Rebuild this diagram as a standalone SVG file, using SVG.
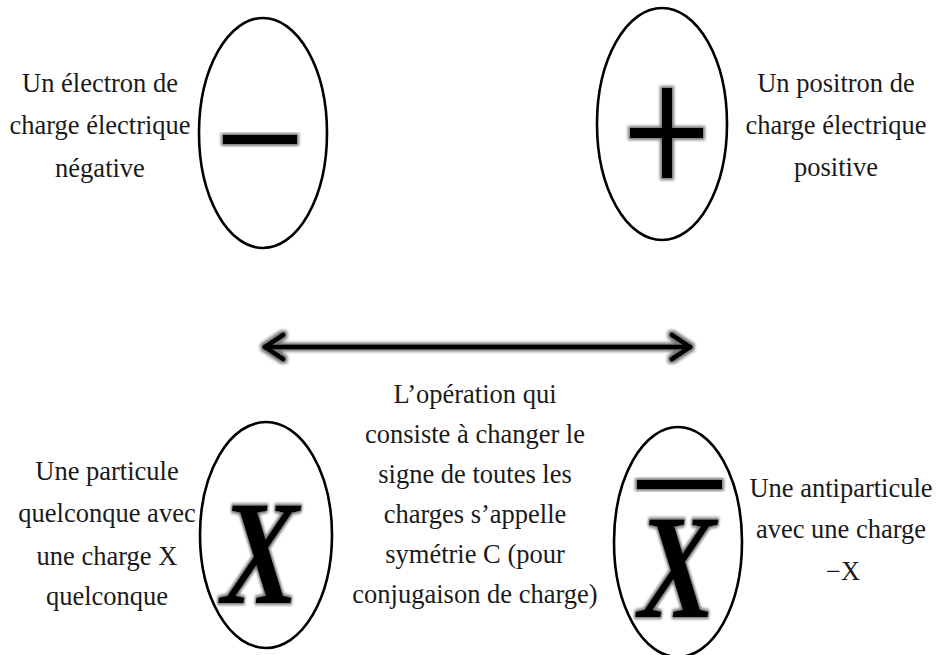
<svg xmlns="http://www.w3.org/2000/svg" width="937" height="655" viewBox="0 0 937 655">
<defs>
<style>
.t{font-family:"Liberation Serif","Times New Roman",serif;font-size:26.5px;fill:#1a1a1a;text-anchor:middle}
.e{fill:none;stroke:#000;stroke-width:2.6}
.bx{font-family:"Liberation Serif","Times New Roman",serif;font-weight:bold;font-style:italic;font-size:148px;fill:#000}
</style>
<filter id="glow" x="-30%" y="-30%" width="160%" height="160%">
<feMorphology in="SourceAlpha" operator="dilate" radius="1.5" result="d"/>
<feGaussianBlur in="d" stdDeviation="1.6" result="b"/>
<feFlood flood-color="#777"/>
<feComposite in2="b" operator="in" result="s"/>
<feMerge><feMergeNode in="s"/><feMergeNode in="SourceGraphic"/></feMerge>
</filter>
</defs>
<rect width="937" height="655" fill="#fff"/>

<g id="electron">
<ellipse class="e" cx="263" cy="133" rx="64" ry="115"/>
<rect x="223" y="135" width="74" height="9" fill="#000" filter="url(#glow)"/>
<text class="t"><tspan x="100" y="92">Un électron de</tspan><tspan x="100" y="134">charge électrique</tspan><tspan x="100" y="177">négative</tspan></text>
</g>

<g id="positron">
<ellipse class="e" cx="662" cy="124" rx="65" ry="116"/>
<g filter="url(#glow)">
<rect x="630" y="128" width="73" height="10" fill="#000"/>
<rect x="662" y="88" width="10" height="90" fill="#000"/>
</g>
<text class="t"><tspan x="836" y="92">Un positron de</tspan><tspan x="836" y="134">charge électrique</tspan><tspan x="836" y="176">positive</tspan></text>
</g>

<g id="connectors">
<g fill="none" stroke="#000" stroke-width="5" stroke-linecap="round" stroke-linejoin="round" filter="url(#glow)">
<line x1="265" y1="347" x2="690" y2="347"/>
<polyline points="283,335 265,347 283,359"/>
<polyline points="672,335 690,347 672,359"/>
</g>
</g>

<g id="particle">
<ellipse class="e" cx="266" cy="535" rx="66" ry="113"/>
<text class="bx" x="0" y="0" transform="translate(221,603) scale(0.79,1)" filter="url(#glow)">X</text>
<text class="t"><tspan x="107" y="480">Une particule</tspan><tspan x="107" y="522">quelconque avec</tspan><tspan x="107" y="565">une charge X</tspan><tspan x="107" y="605">quelconque</tspan></text>
</g>

<g id="operation">
<text class="t"><tspan x="475" y="403">L’opération qui</tspan><tspan x="475" y="443">consiste à changer le</tspan><tspan x="475" y="483">signe de toutes les</tspan><tspan x="475" y="523">charges s’appelle</tspan><tspan x="475" y="563">symétrie C (pour</tspan><tspan x="475" y="603">conjugaison de charge)</tspan></text>
</g>

<g id="antiparticle">
<ellipse class="e" cx="678" cy="542" rx="64" ry="115"/>
<rect x="637" y="480" width="85" height="9" fill="#000" filter="url(#glow)"/>
<text class="bx" x="0" y="0" transform="translate(638,617) scale(0.79,1)" filter="url(#glow)">X</text>
<text class="t"><tspan x="841" y="497">Une antiparticule</tspan><tspan x="841" y="538">avec une charge</tspan><tspan x="843" y="580">−X</tspan></text>
</g>
</svg>
